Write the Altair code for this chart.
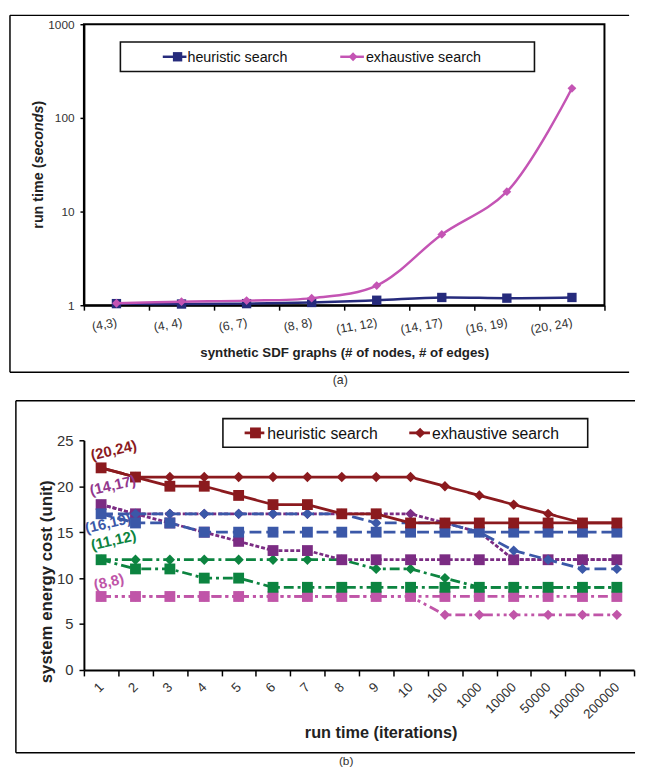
import altair as alt
import pandas as pd

FONT = "Liberation Sans"

# ---------------- panel (a) data ----------------
graphs_a = ["(4,3)", "(4, 4)", "(6, 7)", "(8, 8)", "(11, 12)", "(14, 17)", "(16, 19)", "(20, 24)"]
heuristic_a = [1.04, 1.03, 1.04, 1.07, 1.13, 1.21, 1.19, 1.21]
exhaustive_a = [1.05, 1.09, 1.12, 1.19, 1.62, 5.7, 16.3, 207.0]
methods = ["heuristic search", "exhaustive search"]
colors_a = ["#262B7C", "#C454B4"]
shapes = ["square", "diamond"]
ticks_a = [1, 10, 100, 1000]
xtitle_a = "synthetic SDF graphs (# of nodes, # of edges)"
ytitle_parts_a = ["run time (", "seconds", ")"]
ytitle_styles_a = ["normal", "italic", "normal"]

# ---------------- panel (b) data ----------------
iterations = ["1", "2", "3", "4", "5", "6", "7", "8", "9", "10",
              "100", "1000", "10000", "50000", "100000", "200000"]
graphs_b = ["(20,24)", "(14,17)", "(16,19)", "(11,12)", "(8,8)"]
colors_b = ["#8B1A1E", "#7B2C83", "#3B58A8", "#0C8440", "#C055A8"]
label_colors_b = ["#8B1A1E", "#92378D", "#3B58A8", "#0C8440", "#C055A8"]
dashes_b = [[1, 0], [4, 2], [12, 5], [10, 4, 3, 4], [10, 4, 3, 4, 3, 4]]
heur_20_24 = [22, 21, 20, 20, 19, 18, 18, 17, 17, 16, 16, 16, 16, 16, 16, 16]
exh_20_24 = [22, 21, 21, 21, 21, 21, 21, 21, 21, 21, 20, 19, 18, 17, 16, 16]
heur_14_17 = [18, 17, 16, 15, 14, 13, 13, 12, 12, 12, 12, 12, 12, 12, 12, 12]
exh_14_17 = [18, 17, 17, 17, 17, 17, 17, 17, 17, 17, 16, 15, 12, 12, 12, 12]
heur_16_19 = [17, 16, 16, 15, 15, 15, 15, 15, 15, 15, 15, 15, 15, 15, 15, 15]
exh_16_19 = [17, 17, 17, 17, 17, 17, 17, 17, 16, 16, 16, 15, 13, 12, 11, 11]
heur_11_12 = [12, 11, 11, 10, 10, 9, 9, 9, 9, 9, 9, 9, 9, 9, 9, 9]
exh_11_12 = [12, 12, 12, 12, 12, 12, 12, 12, 11, 11, 10, 9, 9, 9, 9, 9]
heur_8_8 = [8, 8, 8, 8, 8, 8, 8, 8, 8, 8, 8, 8, 8, 8, 8, 8]
exh_8_8 = [8, 8, 8, 8, 8, 8, 8, 8, 8, 8, 6, 6, 6, 6, 6, 6]
heur_b = [heur_20_24, heur_14_17, heur_16_19, heur_11_12, heur_8_8]
exh_b = [exh_20_24, exh_14_17, exh_16_19, exh_11_12, exh_8_8]
label_y_b = [23.6, 19.8, 15.8, 13.8, 9.4]
label_dx_b = [13, 12, 7, 13, 8]
draw_order_b = ["(8,8)", "(11,12)", "(14,17)", "(16,19)", "(20,24)"]
ticks_b = [0, 5, 10, 15, 20, 25]
xtitle_b = "run time (iterations)"
ytitle_b = "system energy cost (unit)"
captions = ["(a)", "(b)"]

one = pd.DataFrame({"k": [0]})


def vrule(x, x2, y, y2=None, width=1.5, color="black"):
    enc = dict(x=alt.value(x), y=alt.value(y))
    if x2 is not None:
        enc["x2"] = alt.value(x2)
    if y2 is not None:
        enc["y2"] = alt.value(y2)
    return alt.Chart(one).mark_rule(strokeWidth=width, color=color).encode(**enc)


def legend_layers(box, items, font_size, line_w):
    x0, x1, y0, y1 = box
    out = [alt.Chart(one).mark_rect(fill="white", stroke="#111", strokeWidth=1.6).encode(
        x=alt.value(x0), x2=alt.value(x1), y=alt.value(y0), y2=alt.value(y1))]
    yc = (y0 + y1) / 2
    for (lx0, lx1, mx, tx, label, shape, color, size) in items:
        out.append(vrule(lx0, lx1, yc, width=line_w, color=color))
        out.append(alt.Chart(one).mark_point(filled=True, opacity=1, shape=shape, size=size,
                                             color=color).encode(x=alt.value(mx), y=alt.value(yc)))
        out.append(alt.Chart(pd.DataFrame({"t": [label]})).mark_text(
            align="left", baseline="middle", font=FONT, fontSize=font_size, color="#111").encode(
            x=alt.value(tx), y=alt.value(yc + 1), text="t:N"))
    return out


# ================= panel (a) =================
W_A, H_A = 528, 285
rows = []
for i, g in enumerate(graphs_a):
    rows.append({"graph": g, "method": methods[0], "time": heuristic_a[i]})
for i, g in enumerate(graphs_a):
    rows.append({"graph": g, "method": methods[1], "time": exhaustive_a[i]})
df_a = pd.DataFrame(rows)

xa = alt.X("graph:N", sort=graphs_a, bandPosition=0.5,
           scale=alt.Scale(type="band", domain=graphs_a, paddingInner=0, paddingOuter=0),
           axis=alt.Axis(title=xtitle_a, labelAngle=350, labelAlign="right", labelBaseline="middle",
                         labelPadding=12, tickBand="extent", tickSize=5, tickWidth=1.5,
                         tickColor="black", domainColor="black", domainWidth=2,
                         labelFont=FONT, labelFontSize=12.5, labelColor="#333", labelOverlap=False,
                         titleFont=FONT, titleFontSize=13.5, titleFontWeight="bold", titleColor="#222",
                         titleX=W_A / 2, titleY=48, titleAlign="center", titleBaseline="middle",
                         grid=False))
ya = alt.Y("time:Q", scale=alt.Scale(type="log", domain=[1, 1000], nice=False),
           axis=alt.Axis(title="", values=ticks_a, format="d", tickSize=4, tickWidth=1.5,
                         tickColor="black", domainColor="black", domainWidth=2, labelPadding=6,
                         labelFont=FONT, labelFontSize=12, labelColor="#333", grid=False))
col_a = alt.Color("method:N", scale=alt.Scale(domain=methods, range=colors_a), legend=None)
shp_a = alt.Shape("method:N", scale=alt.Scale(domain=methods, range=shapes), legend=None)

base_a = alt.Chart(df_a).encode(x=xa, y=ya, color=col_a)
layers_a = []
sizes_a = [90, 80]
for k, m in enumerate(methods):
    sub = base_a.transform_filter(alt.datum.method == m)
    layers_a.append(sub.mark_line(interpolate="catmull-rom", strokeWidth=2.5))
    layers_a.append(sub.mark_point(filled=True, opacity=1, size=sizes_a[k]).encode(shape=shp_a))

# rotated y title with an italic word (three pieces, reading bottom to top)
TFS = 14.5
part_w = [4.556 * TFS, 4.057 * TFS, 0.333 * TFS]
ty = H_A / 2 + sum(part_w) / 2
for p, st, w in zip(ytitle_parts_a, ytitle_styles_a, part_w):
    layers_a.append(alt.Chart(pd.DataFrame({"t": [p]})).mark_text(
        font=FONT, fontSize=TFS, fontWeight="bold", fontStyle=st, color="#222",
        angle=270, align="left", baseline="middle").encode(
        x=alt.value(-46), y=alt.value(ty), text="t:N"))
    ty -= w

layers_a += legend_layers(
    (37, 457, 18, 48),
    [(80, 104, 95, 105, methods[0], "square", colors_a[0], 90),
     (260, 284, 273, 286, methods[1], "diamond", colors_a[1], 80)],
    14.5, 2.5)
# outer frame + caption
layers_a.append(vrule(-75, 553, -9))
layers_a.append(vrule(-75, 553, 353))
layers_a.append(vrule(-75, None, -9, 353))
layers_a.append(alt.Chart(pd.DataFrame({"t": [captions[0]]})).mark_text(
    font=FONT, fontSize=12.5, color="#333", baseline="middle").encode(
    x=alt.value(260), y=alt.value(361), text="t:N"))

chart_a = alt.layer(*layers_a).properties(
    width=W_A, height=H_A, view=alt.ViewBackground(stroke="black", strokeWidth=2))

# ================= panel (b) =================
W_B, H_B = 558, 233
rows = []
for gi, g in enumerate(graphs_b):
    for i, it in enumerate(iterations):
        rows.append({"iteration": it, "graph": g, "method": methods[1], "rank": 0, "cost": exh_b[gi][i]})
        rows.append({"iteration": it, "graph": g, "method": methods[0], "rank": 1, "cost": heur_b[gi][i]})
df_b = pd.DataFrame(rows)

xb = alt.X("iteration:N", sort=iterations, bandPosition=0.5,
           scale=alt.Scale(type="band", domain=iterations, paddingInner=0, paddingOuter=0),
           axis=alt.Axis(title=xtitle_b, labelAngle=315, labelAlign="right", labelBaseline="middle",
                         labelPadding=9, tickBand="extent", tickSize=6, tickWidth=1.5,
                         tickColor="black", domainColor="black", domainWidth=2,
                         labelFont=FONT, labelFontSize=13.5, labelColor="#333", labelOverlap=False,
                         titleFont=FONT, titleFontSize=16.5, titleFontWeight="bold", titleColor="#222",
                         titleX=301, titleY=63, titleAlign="center", titleBaseline="middle",
                         grid=False))
yb = alt.Y("cost:Q", scale=alt.Scale(domain=[0, 25], nice=False),
           axis=alt.Axis(title=ytitle_b, values=ticks_b, tickSize=5, tickWidth=1.5,
                         tickColor="black", domainColor="black", domainWidth=2, labelPadding=6,
                         labelFont=FONT, labelFontSize=15, labelColor="#333",
                         titleFont=FONT, titleFontSize=17, titleFontWeight="bold", titleColor="#222",
                         titleAngle=270, titleX=-38, titleY=143, titleAlign="center",
                         titleBaseline="middle", grid=False))
col_b = alt.Color("graph:N", scale=alt.Scale(domain=graphs_b, range=colors_b), legend=None)
dash_b = alt.StrokeDash("graph:N", scale=alt.Scale(domain=graphs_b, range=dashes_b), legend=None)
shp_b = alt.Shape("method:N", scale=alt.Scale(domain=methods, range=shapes), legend=None)
size_b = alt.Size("method:N", scale=alt.Scale(domain=methods, range=[121, 110]), legend=None)

base_b = alt.Chart(df_b).encode(x=xb, y=yb, color=col_b)
layers_b = []
for g in draw_order_b:
    sub = base_b.transform_filter(alt.datum.graph == g)
    layers_b.append(sub.mark_line(strokeWidth=2.8).encode(detail="method:N", strokeDash=dash_b))
    layers_b.append(sub.mark_point(filled=True, opacity=1).encode(
        shape=shp_b, size=size_b, order=alt.Order("rank:Q")))

for gi, g in enumerate(graphs_b):
    lab = pd.DataFrame({"iteration": [iterations[0]], "cost": [label_y_b[gi]], "label": [g]})
    layers_b.append(alt.Chart(lab).mark_text(
        font=FONT, fontSize=15, fontWeight="bold", angle=347, dx=label_dx_b[gi],
        color=label_colors_b[gi], baseline="middle").encode(x=xb, y=yb, text="label:N"))

layers_b += legend_layers(
    (141, 511, -22, 7),
    [(163, 183, 174, 186, methods[0], "square", colors_b[0], 121),
     (330, 351, 341, 353, methods[1], "diamond", colors_b[0], 110)],
    16, 2.8)
layers_b.append(vrule(-69, 559, -40))
layers_b.append(vrule(-69, 559, 317))
layers_b.append(vrule(-69, None, -40, 317))
layers_b.append(alt.Chart(pd.DataFrame({"t": [captions[1]]})).mark_text(
    font=FONT, fontSize=12, color="#333", baseline="middle").encode(
    x=alt.value(266), y=alt.value(325), text="t:N"))

chart_b = alt.layer(*layers_b).properties(
    width=W_B, height=H_B, view=alt.ViewBackground(stroke="transparent"))

chart = alt.vconcat(chart_a, chart_b, spacing=11).resolve_scale(
    color="independent", shape="independent", strokeDash="independent", size="independent"
).properties(
    padding={"left": 0, "top": 0, "right": 0, "bottom": 0}
).configure_view(stroke="transparent")

chart.save("out.html", embed_options={"renderer": "svg", "actions": False})
